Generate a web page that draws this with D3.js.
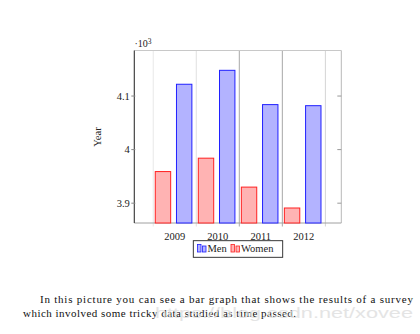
<!DOCTYPE html>
<html><head><meta charset="utf-8">
<script src="https://cdn.jsdelivr.net/npm/d3@7"></script>
<style>body{margin:0;background:#fff}svg{display:block}</style>
</head><body>
<script>
const years = ["2009", "2010", "2011", "2012"];
const men = [4122, 4148, 4084, 4082];
const women = [3959, 3984, 3930, 3891];
const yTicks = [3900, 4000, 4100];
const seriesNames = ["Men", "Women"];
const paragraph = ["In this picture you can see a bar graph that shows the results of a survey",
                   "which involved some tricky data studied as time passed."];
const watermark = "https://blog.csdn.net/xovee";

const W = 420, H = 334;
const svg = d3.select("body").append("svg").attr("width", W).attr("height", H);
const font = "'Liberation Serif', 'DejaVu Serif', serif";

const L = 134.3, R = 341.3, T = 50.5, B = 223;
const x = d3.scaleLinear().domain([-0.44, 4.37]).range([L, R]);
const y = d3.scaleLinear().domain([3863, 4185]).range([B, T]);

// grid lines at group boundaries
const bounds = d3.range(0, years.length + 1);
const gridCol = ["#e8e8e8", "#e0e0e0", "#a8a8a8", "#a8a8a8", "#d4d4d4"];
svg.append("g").selectAll("line").data(bounds).join("line")
  .attr("x1", d => x(d)).attr("x2", d => x(d))
  .attr("y1", T).attr("y2", B + 3.5)
  .attr("stroke", (d, i) => gridCol[i]).attr("stroke-width", 1);

// frame
svg.append("line").attr("x1", L).attr("x2", R).attr("y1", T).attr("y2", T).attr("stroke", "#c8c8c8");
svg.append("line").attr("x1", R).attr("x2", R).attr("y1", T).attr("y2", B).attr("stroke", "#b8b8b8");
svg.append("line").attr("x1", L).attr("x2", R).attr("y1", B).attr("y2", B).attr("stroke", "#a0a0a0");

// bars
const bw = 0.358;
const wOff = 0.047, mOff = 0.54;
svg.append("g").selectAll("rect").data(women).join("rect")
  .attr("x", (d, i) => x(i + wOff)).attr("width", (d, i) => x(i + wOff + bw) - x(i + wOff))
  .attr("y", d => y(d)).attr("height", d => B - y(d))
  .attr("fill", "#ffb3b3").attr("stroke", "#ff2020").attr("stroke-width", 1);
svg.append("g").selectAll("rect").data(men).join("rect")
  .attr("x", (d, i) => x(i + mOff)).attr("width", (d, i) => x(i + mOff + bw) - x(i + mOff))
  .attr("y", d => y(d)).attr("height", d => B - y(d))
  .attr("fill", "#b3b3ff").attr("stroke", "#2020ff").attr("stroke-width", 1);

// left axis
svg.append("line").attr("x1", L).attr("x2", L).attr("y1", T).attr("y2", B).attr("stroke", "#333").attr("stroke-width", 1.1);
const yt = svg.append("g");
yt.selectAll("line.l").data(yTicks).join("line").attr("class", "l")
  .attr("x1", L - 3).attr("x2", L + 1).attr("y1", d => y(d)).attr("y2", d => y(d)).attr("stroke", "#888");
yt.selectAll("line.r").data(yTicks).join("line").attr("class", "r")
  .attr("x1", R - 4).attr("x2", R).attr("y1", d => y(d)).attr("y2", d => y(d)).attr("stroke", "#999");
yt.selectAll("text").data(yTicks).join("text")
  .attr("x", L - 4.5).attr("y", d => y(d) + 3.6).attr("text-anchor", "end")
  .attr("font-family", font).attr("font-size", 10.5).attr("fill", "#222")
  .text(d => d3.format("")(d / 1000));

// x labels
svg.append("g").selectAll("text").data(years).join("text")
  .attr("x", (d, i) => x(i + 0.5)).attr("y", 240).attr("text-anchor", "middle")
  .attr("font-family", font).attr("font-size", 10.5).attr("fill", "#222").text(d => d);

// scale label
const sc = svg.append("text").attr("x", 134.5).attr("y", 47).attr("font-family", font).attr("font-size", 10).attr("fill", "#222");
sc.append("tspan").text("·10");
sc.append("tspan").attr("dy", -3.5).attr("font-size", 7.5).text("3");

// y axis title
svg.append("text").attr("transform", "translate(101,137) rotate(-90)").attr("text-anchor", "middle")
  .attr("font-family", font).attr("font-size", 10.5).attr("fill", "#222").text("Year");

// legend
const lg = svg.append("g");
lg.append("rect").attr("x", 193.3).attr("y", 240.7).attr("width", 89.4).attr("height", 16.6)
  .attr("fill", "#fff").attr("stroke", "#222").attr("stroke-width", 0.9);
const legItems = [
  {name: seriesNames[0], x: 197.5, fill: "#b3b3ff", stroke: "#2020ff"},
  {name: seriesNames[1], x: 231, fill: "#ffb3b3", stroke: "#ff2020"}
];
legItems.forEach(it => {
  lg.append("rect").attr("x", it.x).attr("y", 244.5).attr("width", 3.5).attr("height", 7.5)
    .attr("fill", it.fill).attr("stroke", it.stroke).attr("stroke-width", 0.8);
  lg.append("rect").attr("x", it.x + 5).attr("y", 246).attr("width", 3.5).attr("height", 6)
    .attr("fill", it.fill).attr("stroke", it.stroke).attr("stroke-width", 0.8);
  lg.append("text").attr("x", it.x + 10).attr("y", 252).attr("font-family", font).attr("font-size", 10.5)
    .attr("fill", "#222").text(it.name);
});

// paragraph
svg.append("text").attr("x", 40).attr("y", 302.5).attr("font-family", font).attr("font-size", 11)
  .attr("fill", "#111").attr("textLength", 373).attr("lengthAdjust", "spacing").text(paragraph[0]);
svg.append("text").attr("x", 23).attr("y", 316.5).attr("font-family", font).attr("font-size", 11)
  .attr("fill", "#111").attr("textLength", 273).attr("lengthAdjust", "spacing").text(paragraph[1]);

// watermark
svg.append("text").attr("x", 155).attr("y", 318).attr("font-family", "'Liberation Sans', Arial, sans-serif")
  .attr("font-size", 15).attr("fill", "#dedede").attr("opacity", 0.8)
  .attr("textLength", 258).attr("lengthAdjust", "spacingAndGlyphs").text(watermark);
</script>
</body></html>
